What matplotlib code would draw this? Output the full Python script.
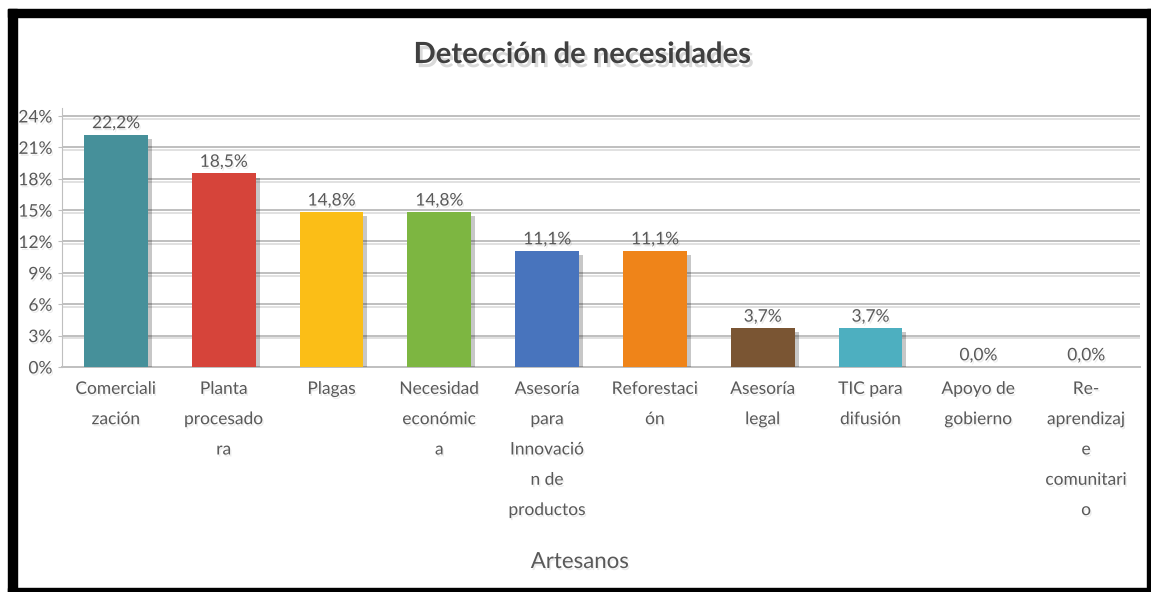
import matplotlib
matplotlib.use("Agg")
import matplotlib.pyplot as plt
import matplotlib.patheffects as pe
from matplotlib.patches import Rectangle

# datos
categorias = ['Comerciali\nzación', 'Planta\nprocesado\nra', 'Plagas',
              'Necesidad\neconómic\na', 'Asesoría\npara\nInnovació\nn de\nproductos',
              'Reforestaci\nón', 'Asesoría\nlegal', 'TIC para\ndifusión',
              'Apoyo de\ngobierno', 'Re-\naprendizaj\ne\ncomunitari\no']
valores = [22.2, 18.5, 14.8, 14.8, 11.1, 11.1, 3.7, 3.7, 0.0, 0.0]
colores = ['#46909A', '#D6443A', '#FBBE17', '#7DB641', '#4874BD',
           '#EF8419', '#7A5533', '#4DAFC0', '#A5A5A5', '#A5A5A5']
yticks = [0, 3, 6, 9, 12, 15, 18, 21, 24]

plt.rcParams['font.family'] = ['Lato', 'DejaVu Sans']
gris = '#595959'

W, H = 1151, 592
fig = plt.figure(figsize=(W / 100, H / 100), dpi=100)
ax = fig.add_axes([62 / W, 1 - 367 / H, (1140 - 62) / W, (367 - 107.6) / H])

sombra = [pe.withSimplePatchShadow(offset=(3, -3), shadow_rgbFace='#000000', alpha=0.22)]
sombra_txt = [pe.withSimplePatchShadow(offset=(1, -1.5), shadow_rgbFace='#000000', alpha=0.08)]

x = list(range(len(categorias)))
barras = ax.bar(x, valores, width=0.59, color=colores, zorder=3)
for b in barras:
    b.set_path_effects(sombra)

for xi, v in zip(x, valores):
    ax.text(xi, v + 0.35, f"{v:.1f}%".replace('.', ','), ha='center', va='bottom',
            fontsize=12.5, color=gris, path_effects=sombra_txt, zorder=4)

ax.set_xlim(-0.5, len(categorias) - 0.5)
ax.set_ylim(0, 24.8)
ax.set_yticks(yticks)
ax.set_yticklabels([f"{t}%" for t in yticks], fontsize=12.5, color=gris)
for lbl in ax.get_yticklabels():
    lbl.set_path_effects(sombra_txt)
ax.set_xticks(x)
ax.set_xticklabels(categorias, fontsize=12.5, color=gris, linespacing=2.1, va='top')
for lbl in ax.get_xticklabels():
    lbl.set_path_effects(sombra_txt)
ax.tick_params(axis='x', length=0, pad=10)
ax.tick_params(axis='y', length=3, color='#BFBFBF', pad=4)

for t in yticks[1:]:
    ax.axhline(t, color='#BFBFBF', lw=1.4, zorder=1,
               path_effects=[pe.SimpleLineShadow(offset=(0, -2), alpha=0.12), pe.Normal()])

for s in ['top', 'right']:
    ax.spines[s].set_visible(False)
ax.spines['left'].set_color('#BFBFBF')
ax.spines['bottom'].set_color('#BFBFBF')
ax.spines['bottom'].set_linewidth(1.4)

fig.text(582 / W, 1 - 55 / H, 'Detección de necesidades', ha='center', va='center',
         fontsize=21, fontweight='bold', color='#404040',
         path_effects=[pe.withSimplePatchShadow(offset=(2, -3), shadow_rgbFace='#000000', alpha=0.15)])
fig.text(580 / W, 1 - 562 / H, 'Artesanos', ha='center', va='center',
         fontsize=16, color=gris, path_effects=sombra_txt)

# marco negro
def caja(x0, y0, x1, y1):
    fig.add_artist(Rectangle((x0 / W, 1 - y1 / H), (x1 - x0) / W, (y1 - y0) / H,
                             transform=fig.transFigure, color='black', zorder=10))

caja(8, 9, W, 17)
caja(8, 9, 17, H)
caja(1147, 9, W, H)
caja(8, 588, W, H)

fig.savefig('out.png', dpi=100)
